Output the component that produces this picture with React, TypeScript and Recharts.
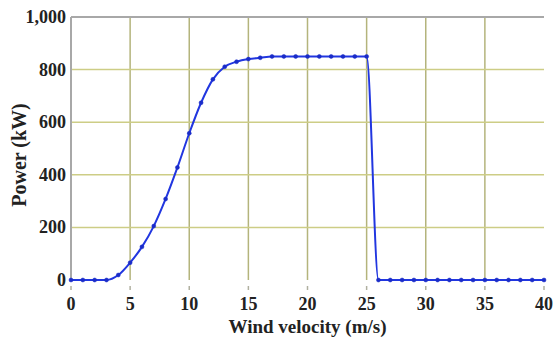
import React from 'react';
import { LineChart, Line, XAxis, YAxis, CartesianGrid, ReferenceLine, Label } from 'recharts';

// wind velocity (m/s) and turbine output (kW)
const velocity = [
  0, 1, 2, 3, 4, 5, 6, 7, 8, 9, 10, 11, 12, 13, 14, 15, 16, 17, 18, 19, 20,
  21, 22, 23, 24, 25, 26, 27, 28, 29, 30, 31, 32, 33, 34, 35, 36, 37, 38, 39, 40,
];
const power = [
  0, 0, 0, 0, 19, 66, 126, 205, 308, 428, 558, 674, 763, 811, 830, 840, 845, 850, 850, 850, 850,
  850, 850, 850, 850, 850, 0, 0, 0, 0, 0, 0, 0, 0, 0, 0, 0, 0, 0, 0, 0,
];
const xTicks = [0, 5, 10, 15, 20, 25, 30, 35, 40];
const yTicks = [0, 200, 400, 600, 800, 1000];

const data = velocity.map((v, i) => ({ v, p: power[i] }));

const serif = { fontFamily: '"Liberation Serif", "Times New Roman", serif', fontWeight: 'bold' as const };

const XTick = (props: any) => {
  const { x, y, payload } = props;
  return (
    <g>
      <line x1={x} x2={x} y1={y + 6} y2={y + 10} stroke="#b0b0a0" strokeWidth={1.5} />
      <text x={x} y={y + 30} textAnchor="middle" style={{ ...serif, fontSize: 18 }} fill="#222">
        {payload.value}
      </text>
    </g>
  );
};

const YTick = (props: any) => {
  const { x, y, payload } = props;
  return (
    <text x={x} y={y + 6} textAnchor="end" style={{ ...serif, fontSize: 18 }} fill="#222">
      {payload.value.toLocaleString('en-US')}
    </text>
  );
};

const YTitle = () => (
  <text
    x={19}
    y={155}
    transform="rotate(-90 19 155)"
    textAnchor="middle"
    dominantBaseline="central"
    style={{ ...serif, fontSize: 20 }}
    fill="#222"
  >
    Power (kW)
  </text>
);

const App: React.FC = () => {
  return (
    <div style={{ position: 'absolute', left: 0, top: 0, width: 556, height: 339, background: '#fff' }}>
      <LineChart width={556} height={339} data={data} margin={{ top: 17, right: 12, left: 0, bottom: 29 }}>
        <CartesianGrid horizontal={false} verticalValues={[5, 10, 15, 20, 25, 30, 35]} stroke="#b4b47c" strokeWidth={1.5} />
        <CartesianGrid vertical={false} horizontalValues={[200, 400, 600, 800]} stroke="#cdcd86" strokeWidth={1.5} />
        <ReferenceLine y={1000} stroke="#a8a8a8" strokeWidth={2} />
        <XAxis
          dataKey="v"
          type="number"
          domain={[0, 40]}
          ticks={xTicks}
          axisLine={false}
          tickLine={false}
          tickSize={0}
          tickMargin={0}
          height={30}
          tick={<XTick />}
          interval={0}
        >
          <Label
            value="Wind velocity (m/s)"
            position="bottom"
            offset={10}
            style={{ ...serif, fontSize: 19, fill: '#222' }}
          />
        </XAxis>
        <YAxis
          type="number"
          domain={[0, 1000]}
          ticks={yTicks}
          axisLine={{ stroke: '#a8a8a8', strokeWidth: 2 }}
          tickLine={false}
          tickSize={0}
          tickMargin={5}
          width={71}
          tick={<YTick />}
          interval={0}
        >
          <Label content={<YTitle />} />
        </YAxis>
        <Line
          type="monotone"
          dataKey="p"
          stroke="#2136e0"
          strokeWidth={2}
          dot={{ r: 2, fill: '#1a2cc8', stroke: '#1a2cc8', strokeWidth: 0.5 }}
          isAnimationActive={false}
        />
      </LineChart>
    </div>
  );
};

export default App;
